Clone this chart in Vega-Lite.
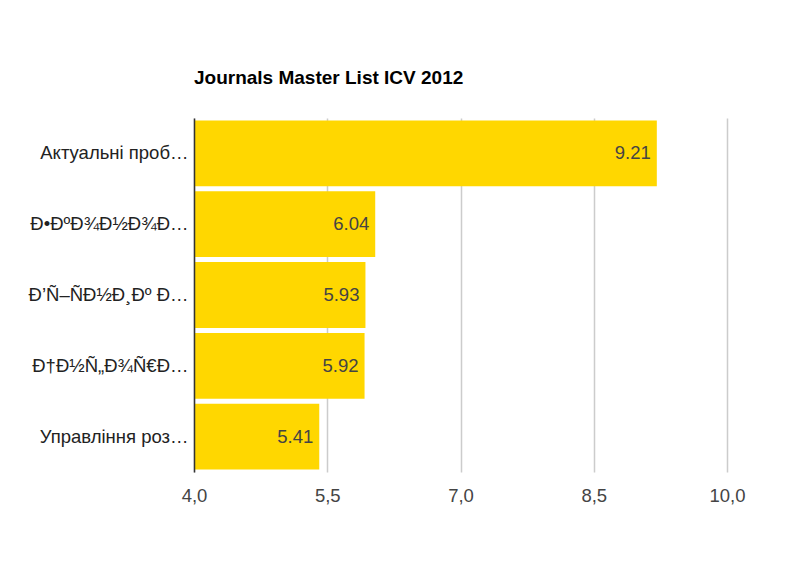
{
  "$schema": "https://vega.github.io/schema/vega-lite/v6.json",
  "autosize": {"type": "none"},
  "padding": {"left": 194, "top": 118, "right": 69, "bottom": 111},
  "width": 533,
  "height": 354,
  "background": "white",
  "title": {
    "text": "Journals Master List ICV 2012",
    "anchor": "start",
    "frame": "group",
    "font": "Liberation Sans",
    "fontSize": 19,
    "fontWeight": "bold",
    "color": "#000000",
    "offset": 30
  },
  "data": {
    "values": [
      {"journal": "Актуальні проб…", "icv": 9.21},
      {"journal": "Ð•ÐºÐ¾Ð½Ð¾Ð…", "icv": 6.04},
      {"journal": "Ð’Ñ–ÑÐ½Ð¸Ðº Ð…", "icv": 5.93},
      {"journal": "Ð†Ð½Ñ„Ð¾Ñ€Ð…", "icv": 5.92},
      {"journal": "Управління роз…", "icv": 5.41}
    ]
  },
  "config": {
    "view": {"stroke": null},
    "font": "Liberation Sans"
  },
  "encoding": {
    "y": {
      "field": "journal",
      "type": "nominal",
      "sort": null,
      "scale": {"paddingInner": 0.07, "paddingOuter": 0.035},
      "axis": {
        "title": null,
        "ticks": false,
        "domainColor": "#333333",
        "domainWidth": 1.5,
        "labelFont": "Liberation Sans",
        "labelFontSize": 18.5,
        "labelColor": "#222222",
        "labelPadding": 6,
        "labelLimit": 200,
        "zindex": 1
      }
    },
    "x": {
      "field": "icv",
      "type": "quantitative",
      "scale": {"domain": [4, 10], "nice": false, "zero": false},
      "axis": {
        "title": null,
        "values": [4, 5.5, 7, 8.5, 10],
        "labelExpr": "replace(format(datum.value, '.1f'), '.', ',')",
        "labelFlush": false,
        "labelOverlap": false,
        "domain": false,
        "ticks": false,
        "gridColor": "#cccccc",
        "gridWidth": 1.5,
        "labelFont": "Liberation Sans",
        "labelFontSize": 18.5,
        "labelColor": "#444444",
        "labelPadding": 14
      }
    }
  },
  "layer": [
    {
      "mark": {"type": "bar", "color": "#FFD700", "clip": true},
      "encoding": {"x2": {"datum": 4}}
    },
    {
      "mark": {
        "type": "text",
        "align": "right",
        "baseline": "middle",
        "dx": -6,
        "font": "Liberation Sans",
        "fontSize": 18.5,
        "color": "#444444"
      },
      "encoding": {"text": {"field": "icv", "type": "quantitative", "format": ".2f"}}
    }
  ]
}
